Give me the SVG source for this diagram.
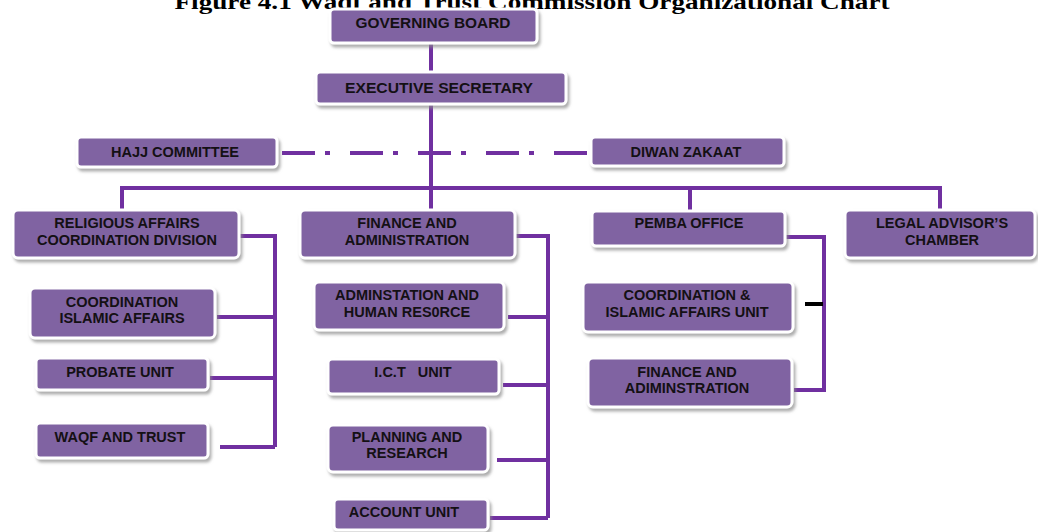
<svg xmlns="http://www.w3.org/2000/svg" width="1038" height="532" viewBox="0 0 1038 532">
  <defs>
    <filter id="sh" x="-10%" y="-20%" width="125%" height="150%">
      <feDropShadow dx="2" dy="3" stdDeviation="1.5" flood-color="#8a8a8a" flood-opacity="0.7"/>
    </filter>
    <style>
      .box { fill: #8064A2; stroke: #ffffff; stroke-width: 3; filter: url(#sh); }
      .t { font-family: "Liberation Sans", Arial, sans-serif; font-weight: bold; font-size: 14.5px; fill: #141014; text-anchor: middle; }
      .c { fill: none; stroke: #7030A0; stroke-width: 4; }
      .title { font-family: "Liberation Serif", "Times New Roman", serif; font-weight: bold; font-size: 22px; fill: #000; text-anchor: middle; }
    </style>
  </defs>
  <rect width="1038" height="532" fill="#ffffff"/>
  <text class="title" x="532" y="9" textLength="715" lengthAdjust="spacingAndGlyphs">Figure 4.1 Waqf and Trust Commission Organizational Chart</text>

  <g id="connectors">
    <path class="c" d="M431 44 V72"/>
    <path class="c" d="M431 104 V210"/>
    <path class="c" d="M282 153 H590" stroke-width="5" stroke-dasharray="33 10 5 20"/>
    <path class="c" d="M122 210 V188 H940 V210"/>
    <path class="c" d="M690 188 V211"/>
    <path class="c" d="M239 236 H275 V447"/>
    <path class="c" d="M217 317 H275 M210 378 H275 M220 447 H275"/>
    <path class="c" d="M515 236 H548 V518"/>
    <path class="c" d="M508 317 H548 M503 385 H548 M497 460 H548 M490 518 H548"/>
    <path class="c" d="M785 237 H824 V390 H794"/>
    <path d="M805 304 H823" stroke="#000" stroke-width="4"/>
  </g>

  <g id="governing-board">
    <rect class="box" x="330" y="9" width="207" height="34" rx="4"/>
    <text class="t" x="433" y="28" textLength="155" lengthAdjust="spacingAndGlyphs">GOVERNING BOARD</text>
  </g>
  <g id="executive-secretary">
    <rect class="box" x="316" y="72" width="250" height="32" rx="4"/>
    <text class="t" x="439" y="93" textLength="188" lengthAdjust="spacingAndGlyphs">EXECUTIVE SECRETARY</text>
  </g>
  <g id="hajj-committee">
    <rect class="box" x="77" y="137" width="200" height="30" rx="4"/>
    <text class="t" x="175" y="157">HAJJ COMMITTEE</text>
  </g>
  <g id="diwan-zakaat">
    <rect class="box" x="591" y="137" width="193" height="29" rx="4"/>
    <text class="t" x="686" y="157">DIWAN ZAKAAT</text>
  </g>
  <g id="religious-affairs">
    <rect class="box" x="13" y="210" width="226" height="48" rx="5"/>
    <text class="t" x="127" y="228">RELIGIOUS AFFAIRS</text>
    <text class="t" x="127" y="245">COORDINATION DIVISION</text>
  </g>
  <g id="finance-administration">
    <rect class="box" x="300" y="210" width="215" height="48" rx="5"/>
    <text class="t" x="407" y="228">FINANCE AND</text>
    <text class="t" x="407" y="245">ADMINISTRATION</text>
  </g>
  <g id="pemba-office">
    <rect class="box" x="592" y="211" width="193" height="35" rx="4"/>
    <text class="t" x="689" y="228">PEMBA OFFICE</text>
  </g>
  <g id="legal-advisor">
    <rect class="box" x="845" y="210" width="190" height="48" rx="5"/>
    <text class="t" x="942" y="228">LEGAL ADVISOR’S</text>
    <text class="t" x="942" y="245">CHAMBER</text>
  </g>
  <g id="coordination-islamic-affairs">
    <rect class="box" x="30" y="288" width="185" height="50" rx="5"/>
    <text class="t" x="122" y="307">COORDINATION</text>
    <text class="t" x="122" y="323">ISLAMIC AFFAIRS</text>
  </g>
  <g id="probate-unit">
    <rect class="box" x="36" y="358" width="172" height="32" rx="4"/>
    <text class="t" x="120" y="377">PROBATE UNIT</text>
  </g>
  <g id="waqf-and-trust">
    <rect class="box" x="36" y="423" width="172" height="35" rx="4"/>
    <text class="t" x="120" y="442">WAQF AND TRUST</text>
  </g>
  <g id="administration-hr">
    <rect class="box" x="314" y="282" width="190" height="48" rx="5"/>
    <text class="t" x="407" y="300">ADMINSTATION AND</text>
    <text class="t" x="407" y="317">HUMAN RES0RCE</text>
  </g>
  <g id="ict-unit">
    <rect class="box" x="328" y="359" width="171" height="35" rx="4"/>
    <text class="t" x="413" y="377" xml:space="preserve">I.C.T   UNIT</text>
  </g>
  <g id="planning-research">
    <rect class="box" x="328" y="425" width="160" height="47" rx="5"/>
    <text class="t" x="407" y="442">PLANNING AND</text>
    <text class="t" x="407" y="458">RESEARCH</text>
  </g>
  <g id="account-unit">
    <rect class="box" x="334" y="499" width="154" height="31" rx="4"/>
    <text class="t" x="404" y="517">ACCOUNT UNIT</text>
  </g>
  <g id="pemba-coordination">
    <rect class="box" x="583" y="282" width="210" height="50" rx="5"/>
    <text class="t" x="687" y="300">COORDINATION &amp;</text>
    <text class="t" x="687" y="317">ISLAMIC AFFAIRS UNIT</text>
  </g>
  <g id="pemba-finance">
    <rect class="box" x="588" y="358" width="204" height="49" rx="5"/>
    <text class="t" x="687" y="377">FINANCE AND</text>
    <text class="t" x="687" y="393">ADIMINSTRATION</text>
  </g>
</svg>
